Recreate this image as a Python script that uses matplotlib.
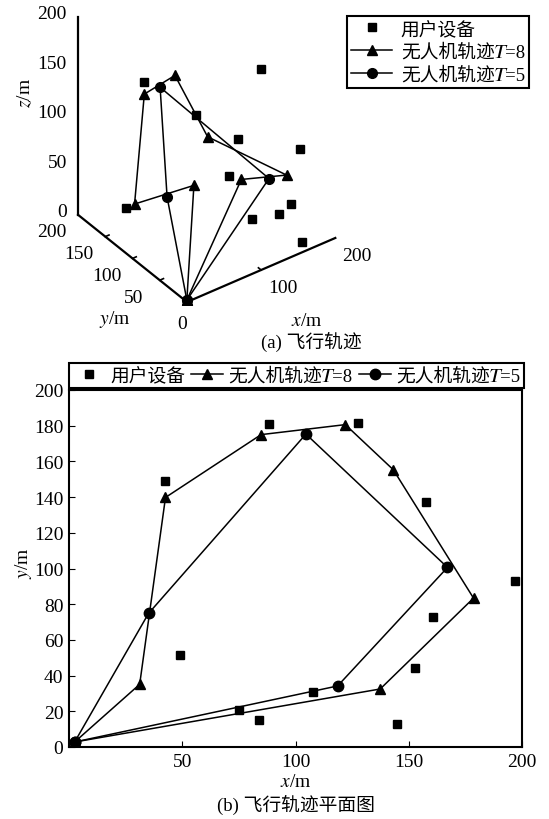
import matplotlib
matplotlib.use('Agg')
import matplotlib.pyplot as plt
from mpl_toolkits.mplot3d import proj3d

plt.rcParams['font.family'] = ['Liberation Serif', 'Noto Sans CJK SC', 'STIXGeneral']
plt.rcParams['mathtext.fontset'] = 'stix'

# ---- plan view data (b) ----
user_x = [42.6, 88.5, 127.4, 157.4, 49.2, 74.9, 83.8, 107.8, 160.8, 152.8, 144.8, 197.1]
user_y = [149.2, 181.0, 181.3, 137.4, 51.8, 20.6, 15.1, 30.8, 72.9, 44.3, 12.7, 93.1]
t8_x = [2.5, 31.2, 42.6, 84.8, 122.0, 143.2, 178.6, 137.4, 2.5]
t8_y = [2.8, 35.1, 139.8, 175.0, 180.6, 155.3, 83.4, 32.5, 2.8]
t5_x = [2.5, 35.1, 104.6, 167.1, 118.6, 2.5]
t5_y = [2.8, 74.8, 175.3, 100.6, 34.2, 2.8]

# ---- 3d view data (a) ----
user3_x = [26.8, 75.4, 145.0, 95.3, 170.0, 103.0, 153.5, 135.0, 172.5, 197.1, 164.0]
user3_y = [149.2, 181.0, 181.3, 51.8, 137.4, 20.6, 72.9, 15.1, 44.3, 61.5, 12.7]
user3_z = [20.7, 117.9, 62.0, 74.0, 49.0, 41.0, 154.0, 38.5, 23.4, 64.0, 2.0]
t8_3x = [2, 35.1, 38, 71, 116.4, 141.9, 185, 115, 2]
t8_3y = [3, 35.1, 148, 175, 180.6, 155.3, 69, 56.8, 3]
t8_3z = [0, 91, 21.5, 110, 111.7, 52.6, 38, 61.6, 0]
t5_3x = [2, 28.1, 92.5, 175, 2]
t5_3y = [3, 74.8, 175.3, 87.7, 3]
t5_3z = [0, 64, 109.8, 29.5, 0]

z_ticks = [0, 50, 100, 150, 200]
y_ticks3 = [50, 100, 150, 200]
x_ticks3 = [100, 200]

# italic T taken from the math italic block (falls back to STIXGeneral)
lab_user = '用户设备'
lab_t8 = '无人机轨迹\U0001D447=8'
lab_t5 = '无人机轨迹\U0001D447=5'

W, H = 549, 820
fig = plt.figure(figsize=(W / 100, H / 100), dpi=100)

# ---------------- (a) 3D ----------------
size0 = 330
ax3 = fig.add_axes([20 / W, (H - 340) / H, size0 / W, size0 / H], projection='3d', proj_type='ortho')
ax3.view_init(elev=36, azim=-126.3)
ax3.set_box_aspect((1, 1, 1.33))
ax3.set_xlim(0, 200)
ax3.set_ylim(0, 200)
ax3.set_zlim(0, 200)
ax3.set_axis_off()
ax3.patch.set_alpha(0)

# place the 3d box so the origin and z scale land where the reference has them
fig.canvas.draw()
def px(x, y, z):
    X, Y, _ = proj3d.proj_transform(x, y, z, ax3.get_proj())
    return ax3.transData.transform((X, Y))
o = px(0, 0, 0)
zt = px(0, 0, 200)
f = 198 / (zt[1] - o[1])
pos = ax3.get_position()
L, B, Wd, Hd = pos.x0 * W, pos.y0 * H, pos.width * W, pos.height * H
L2 = 187 - (o[0] - L) * f
B2 = (H - 303) - (o[1] - B) * f
ax3.set_position([L2 / W, B2 / H, Wd * f / W, Hd * f / H])

def put(x, y, z, s, **kw):
    p = px(x, y, z)
    fig.text(p[0] / W, p[1] / H, s, **kw)

# axis lines
ax3.plot([0, 200], [0, 0], [0, 0], color='k', lw=1.6)
ax3.plot([0, 0], [0, 200], [0, 0], color='k', lw=1.6)
ax3.plot([0, 0], [200, 200], [0, 200], color='k', lw=1.6)
for v in [100]:
    ax3.plot([v, v], [0, 5], [0, 0], color='k', lw=1.2)
for v in [50, 100, 150]:
    ax3.plot([0, 5], [v, v], [0, 0], color='k', lw=1.2)

for v in z_ticks:
    put(-15, 200, v + 8, str(v), ha='right', va='center', fontsize=14)
for v in y_ticks3:
    put(-35, v, -6, str(v), ha='center', va='center', fontsize=14)
for v in x_ticks3:
    put(v, -40, 0, str(v), ha='center', va='center', fontsize=14)
put(-6, 0, -20, '0', ha='center', va='center', fontsize=14)

h_u, = ax3.plot(user3_x, user3_y, user3_z, 's', color='k', ms=6, linestyle='none', label=lab_user)
h_8, = ax3.plot(t8_3x, t8_3y, t8_3z, '-^', color='k', ms=6.5, lw=1.1, label=lab_t8)
h_5, = ax3.plot(t5_3x, t5_3y, t5_3z, '-o', color='k', ms=7, lw=1.1, label=lab_t5)

leg1 = fig.legend(handles=[h_u, h_8, h_5], loc='upper left', bbox_to_anchor=(347 / W, 1 - 17 / H),
                  fontsize=13.5, frameon=True, fancybox=False, framealpha=1, edgecolor='k',
                  handlelength=2.2, handletextpad=0.45, labelspacing=0.28, borderpad=0.22,
                  borderaxespad=0)
leg1.get_frame().set_linewidth(1.5)

fig.text(25 / W, 1 - 93 / H, '$z$/m', rotation=90, ha='center', va='center', fontsize=14)
fig.text(115 / W, 1 - 320 / H, '$y$/m', ha='center', va='center', fontsize=14)
fig.text(307 / W, 1 - 322 / H, '$x$/m', ha='center', va='center', fontsize=14)
fig.text(311 / W, 1 - 342 / H, '(a) 飞行轨迹', ha='center', va='center', fontsize=13.5)

# ---------------- (b) plan view ----------------
ax = fig.add_axes([69 / W, 1 - 748 / H, (522 - 69) / W, (748 - 391) / H])
ax.plot(user_x, user_y, 's', color='k', ms=6, label=lab_user)
ax.plot(t8_x, t8_y, '-^', color='k', ms=7, lw=1.1, label=lab_t8)
ax.plot(t5_x, t5_y, '-o', color='k', ms=7.5, lw=1.1, label=lab_t5)
ax.set_xlim(0, 200)
ax.set_ylim(0, 200)
ax.set_xticks([50, 100, 150, 200])
ax.set_yticks(range(0, 201, 20))
ax.tick_params(direction='in', length=4, labelsize=14, pad=4)
for s in ax.spines.values():
    s.set_linewidth(1.5)
ax.set_xlabel('$x$/m', fontsize=14)
ax.xaxis.set_label_coords(0.5, -0.072)
ax.set_ylabel('$y$/m', fontsize=14)
ax.yaxis.set_label_coords(-0.078, 0.518)

leg2 = ax.legend(loc='lower left', bbox_to_anchor=(0, 1 + 2 / 357, (524 - 69) / 453, 0), mode='expand',
                 ncol=3, fontsize=13.5, frameon=True, fancybox=False, framealpha=1, edgecolor='k',
                 handlelength=1.7, handletextpad=0.3, columnspacing=0.4, borderpad=0.2,
                 borderaxespad=0)
leg2.get_frame().set_linewidth(1.5)

fig.text(296 / W, 1 - 805 / H, '(b) 飞行轨迹平面图', ha='center', va='center', fontsize=13.5)

fig.savefig('out.png', dpi=100)
